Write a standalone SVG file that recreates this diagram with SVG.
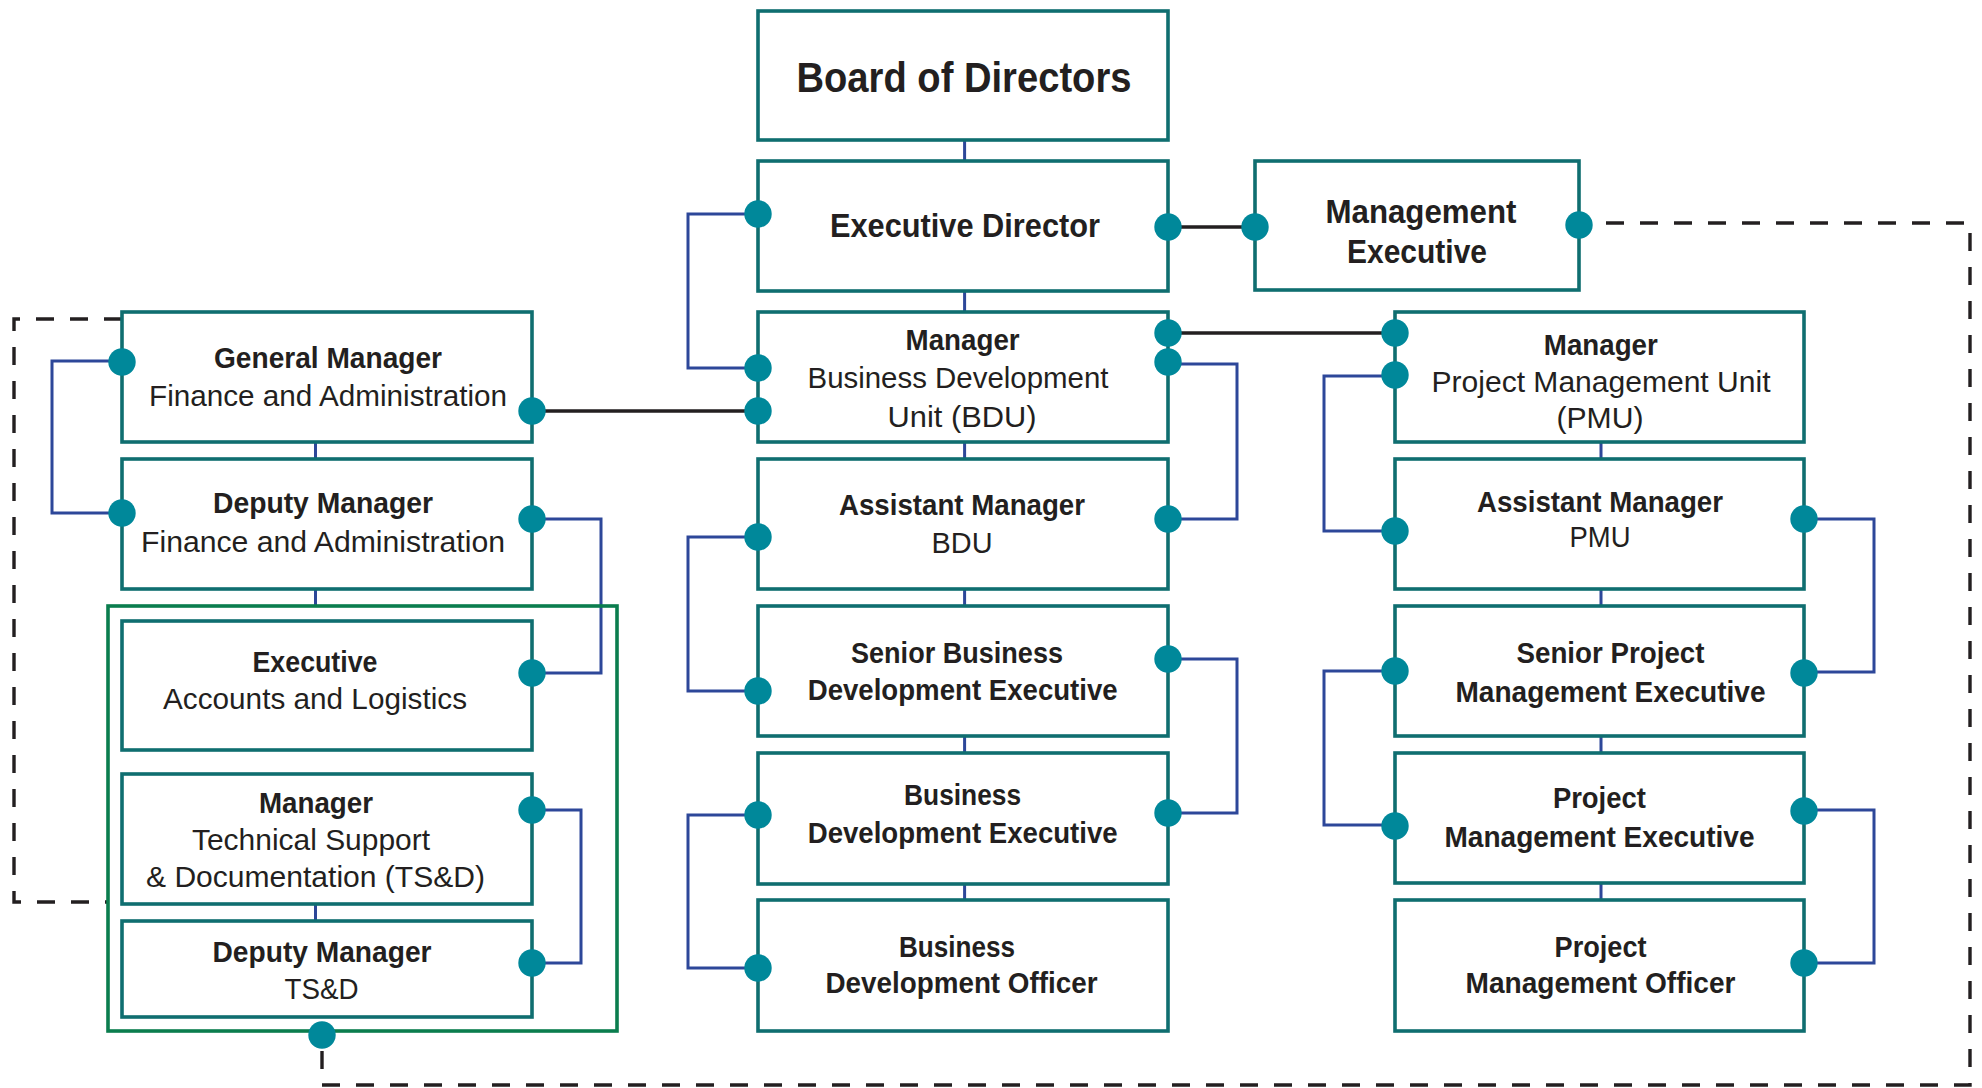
<svg xmlns="http://www.w3.org/2000/svg" width="1982" height="1088" viewBox="0 0 1982 1088">
<style>
.box{fill:#fff;stroke:#0f6e70;stroke-width:3.6}
.cont{fill:none;stroke:#0b7d4e;stroke-width:3.6}
.dot{fill:#00889a}
.blue{fill:none;stroke:#2d4799;stroke-width:3}
.blk{fill:none;stroke:#231f20;stroke-width:3.6}
.dash{fill:none;stroke:#231f20;stroke-width:3.4;stroke-dasharray:18 16}
text{font-family:"Liberation Sans",Arial,sans-serif;fill:#231f20;text-anchor:middle}
.b{font-weight:bold;font-size:29px}
.r{font-weight:normal;font-size:29px}
.t{font-weight:bold;font-size:33px}
</style>
<rect width="1982" height="1088" fill="#fff"/>
<g id="connectors">
<path class="blue" d="M964.6 140V161M964.6 291V312M964.6 442V459M964.6 589V606M964.6 736V753M964.6 884V900"/>
<path class="blue" d="M315.5 442V459M315.5 589V606M315.5 904V921"/>
<path class="blue" d="M1601 442V459M1601 589V606M1601 736V753M1601 883V900"/>
<path class="blue" d="M758 214H688V368H758"/>
<path class="blue" d="M1168 364H1237V519H1168"/>
<path class="blue" d="M758 537H688V691H758"/>
<path class="blue" d="M1168 659H1237V813H1168"/>
<path class="blue" d="M758 815H688V968H758"/>
<path class="blue" d="M122 361H52V513H122"/>
<path class="blue" d="M532 519H601V673H532"/>
<path class="blue" d="M532 810H581V963H532"/>
<path class="blue" d="M1395 376H1324V531H1395"/>
<path class="blue" d="M1804 519H1874V672H1804"/>
<path class="blue" d="M1395 671H1324V825H1395"/>
<path class="blue" d="M1804 810H1874V963H1804"/>
<path class="blk" d="M1168 227H1255M1168 333H1395M532 411H758"/>
<path class="dash" d="M1606 223H1970V1085H322V1049"/>
<path class="dash" d="M122 319H14V902H108"/>
</g>
<rect id="finance-group" class="cont" x="108" y="606" width="509" height="425"/>
<g id="board"><rect class="box" x="758" y="11" width="410" height="129"/><text x="964" y="92" font-size="42" font-weight="bold" textLength="335" lengthAdjust="spacingAndGlyphs">Board of Directors</text></g>
<g id="exec-director"><rect class="box" x="758" y="161" width="410" height="130"/><text class="t" x="965" y="237" textLength="270" lengthAdjust="spacingAndGlyphs">Executive Director</text></g>
<g id="mgmt-exec"><rect class="box" x="1255" y="161" width="324" height="129"/><text class="t" x="1421" y="223" textLength="191" lengthAdjust="spacingAndGlyphs">Management</text><text class="t" x="1417" y="263" textLength="140" lengthAdjust="spacingAndGlyphs">Executive</text></g>
<g id="mgr-bdu"><rect class="box" x="758" y="312" width="410" height="130"/><text class="b" x="962.6" y="350" textLength="114" lengthAdjust="spacingAndGlyphs">Manager</text><text class="r" x="958" y="388.3" textLength="301" lengthAdjust="spacingAndGlyphs">Business Development</text><text class="r" x="962" y="426.7" textLength="149" lengthAdjust="spacingAndGlyphs">Unit (BDU)</text></g>
<g id="am-bdu"><rect class="box" x="758" y="459" width="410" height="130"/><text class="b" x="962" y="515" textLength="246" lengthAdjust="spacingAndGlyphs">Assistant Manager</text><text class="r" x="962" y="553.3" textLength="61" lengthAdjust="spacingAndGlyphs">BDU</text></g>
<g id="sbde"><rect class="box" x="758" y="606" width="410" height="130"/><text class="b" x="957" y="663.3" textLength="212" lengthAdjust="spacingAndGlyphs">Senior Business</text><text class="b" x="962.7" y="700" textLength="310" lengthAdjust="spacingAndGlyphs">Development Executive</text></g>
<g id="bde"><rect class="box" x="758" y="753" width="410" height="131"/><text class="b" x="962.6" y="805" textLength="117" lengthAdjust="spacingAndGlyphs">Business</text><text class="b" x="962.7" y="843.3" textLength="310" lengthAdjust="spacingAndGlyphs">Development Executive</text></g>
<g id="bdo"><rect class="box" x="758" y="900" width="410" height="131"/><text class="b" x="957" y="956.7" textLength="116" lengthAdjust="spacingAndGlyphs">Business</text><text class="b" x="961.5" y="993.3" textLength="272" lengthAdjust="spacingAndGlyphs">Development Officer</text></g>
<g id="gm-fa"><rect class="box" x="122" y="312" width="410" height="130"/><text class="b" x="328" y="368.3" textLength="228" lengthAdjust="spacingAndGlyphs">General Manager</text><text class="r" x="328" y="406" textLength="358" lengthAdjust="spacingAndGlyphs">Finance and Administration</text></g>
<g id="dm-fa"><rect class="box" x="122" y="459" width="410" height="130"/><text class="b" x="323" y="512.5" textLength="220" lengthAdjust="spacingAndGlyphs">Deputy Manager</text><text class="r" x="323" y="551.7" textLength="364" lengthAdjust="spacingAndGlyphs">Finance and Administration</text></g>
<g id="exec-al"><rect class="box" x="122" y="621" width="410" height="129"/><text class="b" x="315" y="671.7" textLength="125" lengthAdjust="spacingAndGlyphs">Executive</text><text class="r" x="315" y="709.3" textLength="304" lengthAdjust="spacingAndGlyphs">Accounts and Logistics</text></g>
<g id="mgr-tsd"><rect class="box" x="122" y="774" width="410" height="130"/><text class="b" x="316" y="812.7" textLength="114" lengthAdjust="spacingAndGlyphs">Manager</text><text class="r" x="311" y="850" textLength="238" lengthAdjust="spacingAndGlyphs">Technical Support</text><text class="r" x="315.5" y="887.3" textLength="339" lengthAdjust="spacingAndGlyphs">&amp; Documentation (TS&amp;D)</text></g>
<g id="dm-tsd"><rect class="box" x="122" y="921" width="410" height="96"/><text class="b" x="322" y="961.7" textLength="219" lengthAdjust="spacingAndGlyphs">Deputy Manager</text><text class="r" x="321.5" y="999.3" textLength="74" lengthAdjust="spacingAndGlyphs">TS&amp;D</text></g>
<g id="mgr-pmu"><rect class="box" x="1395" y="312" width="409" height="130"/><text class="b" x="1600.8" y="355" textLength="114" lengthAdjust="spacingAndGlyphs">Manager</text><text class="r" x="1601" y="392.3" textLength="339" lengthAdjust="spacingAndGlyphs">Project Management Unit</text><text class="r" x="1600" y="428.3" textLength="87" lengthAdjust="spacingAndGlyphs">(PMU)</text></g>
<g id="am-pmu"><rect class="box" x="1395" y="459" width="409" height="130"/><text class="b" x="1600" y="511.7" textLength="246" lengthAdjust="spacingAndGlyphs">Assistant Manager</text><text class="r" x="1600" y="546.7" textLength="61" lengthAdjust="spacingAndGlyphs">PMU</text></g>
<g id="spme"><rect class="box" x="1395" y="606" width="409" height="130"/><text class="b" x="1610.5" y="663.3" textLength="188" lengthAdjust="spacingAndGlyphs">Senior Project</text><text class="b" x="1610.5" y="701.7" textLength="310" lengthAdjust="spacingAndGlyphs">Management Executive</text></g>
<g id="pme"><rect class="box" x="1395" y="753" width="409" height="130"/><text class="b" x="1599.4" y="808.3" textLength="93" lengthAdjust="spacingAndGlyphs">Project</text><text class="b" x="1599.5" y="846.7" textLength="310" lengthAdjust="spacingAndGlyphs">Management Executive</text></g>
<g id="pmo"><rect class="box" x="1395" y="900" width="409" height="131"/><text class="b" x="1600.6" y="956.7" textLength="92" lengthAdjust="spacingAndGlyphs">Project</text><text class="b" x="1600.5" y="993.3" textLength="270" lengthAdjust="spacingAndGlyphs">Management Officer</text></g>
<g id="ports">
<circle class="dot" cx="758" cy="214" r="13.7"/><circle class="dot" cx="1168" cy="227" r="13.7"/><circle class="dot" cx="1255" cy="227" r="13.7"/><circle class="dot" cx="1579" cy="225" r="13.7"/>
<circle class="dot" cx="758" cy="368" r="13.7"/><circle class="dot" cx="758" cy="411" r="13.7"/><circle class="dot" cx="1168" cy="333" r="13.7"/><circle class="dot" cx="1168" cy="362" r="13.7"/>
<circle class="dot" cx="758" cy="537" r="13.7"/><circle class="dot" cx="1168" cy="519" r="13.7"/>
<circle class="dot" cx="758" cy="691" r="13.7"/><circle class="dot" cx="1168" cy="659" r="13.7"/>
<circle class="dot" cx="758" cy="815" r="13.7"/><circle class="dot" cx="1168" cy="813" r="13.7"/>
<circle class="dot" cx="758" cy="968" r="13.7"/>
<circle class="dot" cx="122" cy="362" r="13.7"/><circle class="dot" cx="532" cy="411" r="13.7"/>
<circle class="dot" cx="122" cy="513" r="13.7"/><circle class="dot" cx="532" cy="519" r="13.7"/>
<circle class="dot" cx="532" cy="673" r="13.7"/><circle class="dot" cx="532" cy="810" r="13.7"/><circle class="dot" cx="532" cy="963" r="13.7"/>
<circle class="dot" cx="322" cy="1035" r="13.7"/>
<circle class="dot" cx="1395" cy="333" r="13.7"/><circle class="dot" cx="1395" cy="375" r="13.7"/>
<circle class="dot" cx="1395" cy="531" r="13.7"/><circle class="dot" cx="1804" cy="519" r="13.7"/>
<circle class="dot" cx="1395" cy="671" r="13.7"/><circle class="dot" cx="1804" cy="673" r="13.7"/>
<circle class="dot" cx="1395" cy="826" r="13.7"/><circle class="dot" cx="1804" cy="811" r="13.7"/>
<circle class="dot" cx="1804" cy="963" r="13.7"/>
</g>
</svg>
